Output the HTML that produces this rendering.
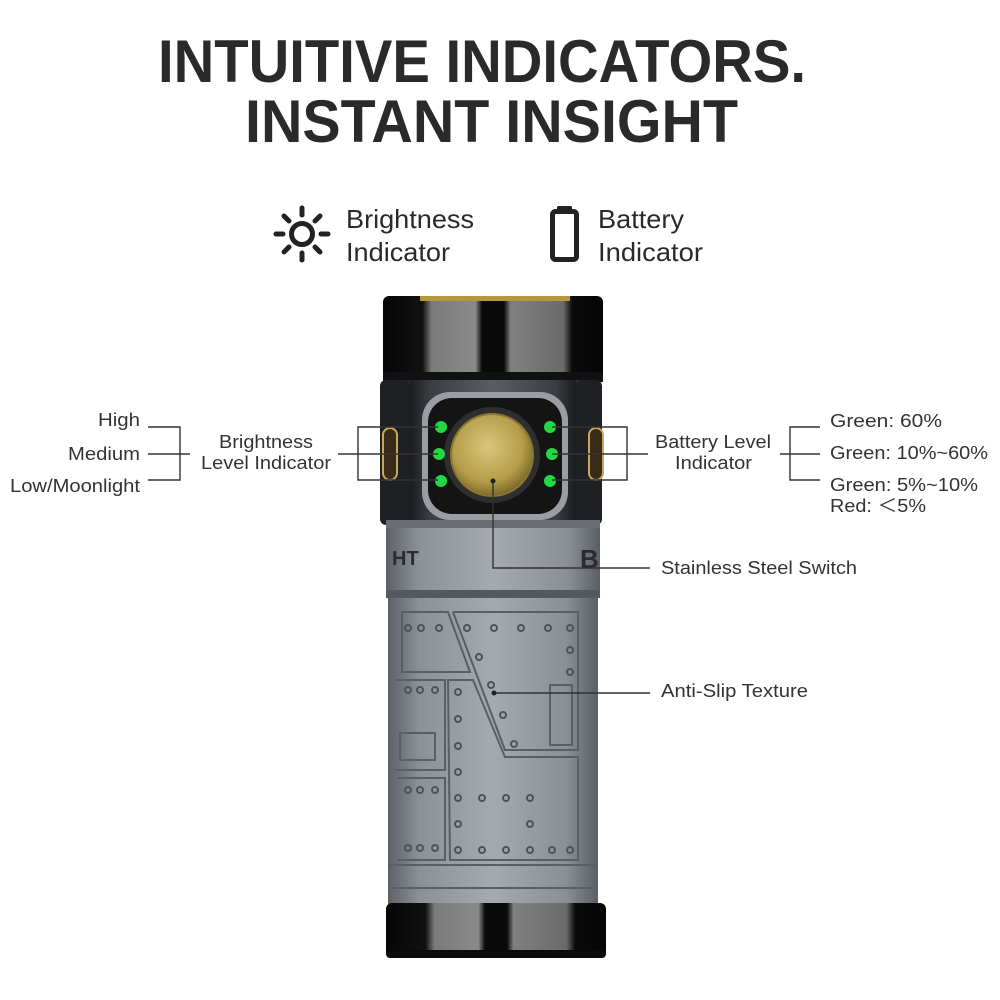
<!DOCTYPE html>
<html><head><meta charset="utf-8"><style>html,body{margin:0;padding:0;background:#fff}svg{display:block}</style></head>
<body>
<svg width="1000" height="1000" viewBox="0 0 1000 1000" xmlns="http://www.w3.org/2000/svg" font-family="Liberation Sans, sans-serif">
<defs>
<linearGradient id="blk" x1="0" x2="1" y1="0" y2="0">
<stop offset="0" stop-color="#050505"/><stop offset="0.18" stop-color="#111"/><stop offset="0.22" stop-color="#7a7a7a"/><stop offset="0.42" stop-color="#8a8a8a"/><stop offset="0.45" stop-color="#0a0a0a"/><stop offset="0.55" stop-color="#0a0a0a"/><stop offset="0.58" stop-color="#808080"/><stop offset="0.82" stop-color="#6a6a6a"/><stop offset="0.86" stop-color="#0a0a0a"/><stop offset="1" stop-color="#050505"/>
</linearGradient>
<linearGradient id="gray" x1="0" x2="1" y1="0" y2="0">
<stop offset="0" stop-color="#5c6168"/><stop offset="0.15" stop-color="#8c9198"/><stop offset="0.5" stop-color="#a5aab0"/><stop offset="0.85" stop-color="#8a8f96"/><stop offset="1" stop-color="#5a5f66"/>
</linearGradient>
<linearGradient id="dk" x1="0" x2="1" y1="0" y2="0">
<stop offset="0" stop-color="#1a1c1f"/><stop offset="0.12" stop-color="#3a3d42"/><stop offset="0.5" stop-color="#5a5e64"/><stop offset="0.88" stop-color="#3a3d42"/><stop offset="1" stop-color="#1a1c1f"/>
</linearGradient>
<radialGradient id="gold" cx="0.45" cy="0.4" r="0.6">
<stop offset="0" stop-color="#d8c67a"/><stop offset="0.7" stop-color="#b59e4a"/><stop offset="1" stop-color="#7d6a2a"/>
</radialGradient>
</defs>

<g fill="#2a2a2a" font-weight="bold">
<text x="158" y="82" font-size="60" textLength="648" lengthAdjust="spacingAndGlyphs">INTUITIVE INDICATORS.</text>
<text x="245" y="142" font-size="60" textLength="493" lengthAdjust="spacingAndGlyphs">INSTANT INSIGHT</text>
</g>

<g stroke="#222" stroke-width="5" stroke-linecap="round" fill="none">
<circle cx="302" cy="234" r="10.5"/>
<line x1="302" y1="208" x2="302" y2="215"/><line x1="302" y1="253" x2="302" y2="260"/>
<line x1="276" y1="234" x2="283" y2="234"/><line x1="321" y1="234" x2="328" y2="234"/>
<line x1="284" y1="216" x2="289" y2="221"/><line x1="315" y1="247" x2="320" y2="252"/>
<line x1="284" y1="252" x2="289" y2="247"/><line x1="315" y1="221" x2="320" y2="216"/>
</g>
<g fill="#2a2a2a" font-size="26">
<text x="346" y="228" textLength="128" lengthAdjust="spacingAndGlyphs">Brightness</text><text x="346" y="261" textLength="104" lengthAdjust="spacingAndGlyphs">Indicator</text>
<text x="598" y="228" textLength="86" lengthAdjust="spacingAndGlyphs">Battery</text><text x="598" y="261" textLength="105" lengthAdjust="spacingAndGlyphs">Indicator</text>
</g>
<rect x="557" y="206" width="15" height="8" rx="1.5" fill="#222"/>
<rect x="552.5" y="211.5" width="24" height="48" rx="3" fill="none" stroke="#222" stroke-width="5"/>

<rect x="383" y="296" width="220" height="84" rx="6" fill="url(#blk)"/>
<rect x="420" y="296" width="150" height="5" fill="#b8963a"/>
<rect x="383" y="372" width="220" height="10" fill="#111"/>
<rect x="380" y="380" width="222" height="145" rx="8" fill="#2a2c2f"/>
<rect x="410" y="380" width="166" height="145" fill="url(#dk)"/>
<rect x="380" y="380" width="30" height="145" rx="6" fill="#1e2023"/>
<rect x="576" y="380" width="26" height="145" rx="6" fill="#1e2023"/>
<rect x="383" y="428" width="14" height="52" rx="7" fill="#3a2a18" stroke="#c8a860" stroke-width="2"/>
<rect x="589" y="428" width="14" height="52" rx="7" fill="#3a2a18" stroke="#c8a860" stroke-width="2"/>
<rect x="422" y="392" width="146" height="128" rx="28" fill="#9a9ea4"/>
<rect x="428" y="398" width="134" height="116" rx="24" fill="#141414"/>
<circle cx="492" cy="455" r="48" fill="#2e2e2e"/>
<circle cx="492" cy="455" r="41" fill="url(#gold)" stroke="#8a7632" stroke-width="2"/>
<g fill="#22d844">
<circle cx="441" cy="427" r="6"/><circle cx="439" cy="454" r="6"/><circle cx="441" cy="481" r="6"/>
<circle cx="550" cy="427" r="6"/><circle cx="552" cy="454" r="6"/><circle cx="550" cy="481" r="6"/>
</g>
<rect x="386" y="522" width="214" height="74" rx="4" fill="url(#gray)"/>
<rect x="386" y="520" width="214" height="8" fill="#6a6e74"/>
<rect x="386" y="590" width="214" height="8" fill="#55595f"/>
<text x="392" y="565" font-size="20" font-weight="bold" fill="#2a2c30">HT</text>
<text x="580" y="568" font-size="26" font-weight="bold" fill="#2a2c30">B</text>
<rect x="388" y="598" width="210" height="312" fill="url(#gray)"/>
<g fill="none" stroke="#5a5f66" stroke-width="2">
<path d="M402 612 H448 L470 672 H402 Z"/>
<path d="M453 612 H578 V750 H505 L453 612"/>
<path d="M448 680 H473 L505 757 H578 V860 H450 Z"/>
<path d="M395 680 H445 V770 H395"/>
<path d="M397 778 H445 V860 H397"/>
<rect x="400" y="733" width="35" height="27"/>
<rect x="550" y="685" width="22" height="60"/>
<line x1="388" y1="865" x2="598" y2="865"/>
<line x1="388" y1="888" x2="598" y2="888"/>
</g>
<g fill="none" stroke="#4e535a" stroke-width="2">
<circle cx="408" cy="628" r="3"/><circle cx="421" cy="628" r="3"/><circle cx="439" cy="628" r="3"/>
<circle cx="467" cy="628" r="3"/><circle cx="494" cy="628" r="3"/><circle cx="521" cy="628" r="3"/><circle cx="548" cy="628" r="3"/><circle cx="570" cy="628" r="3"/>
<circle cx="479" cy="657" r="3"/><circle cx="491" cy="685" r="3"/><circle cx="503" cy="715" r="3"/><circle cx="514" cy="744" r="3"/>
<circle cx="458" cy="692" r="3"/><circle cx="458" cy="719" r="3"/><circle cx="458" cy="746" r="3"/><circle cx="458" cy="772" r="3"/><circle cx="458" cy="798" r="3"/><circle cx="458" cy="824" r="3"/><circle cx="458" cy="850" r="3"/>
<circle cx="482" cy="798" r="3"/><circle cx="506" cy="798" r="3"/><circle cx="530" cy="798" r="3"/><circle cx="530" cy="824" r="3"/>
<circle cx="482" cy="850" r="3"/><circle cx="506" cy="850" r="3"/><circle cx="530" cy="850" r="3"/><circle cx="552" cy="850" r="3"/><circle cx="570" cy="850" r="3"/>
<circle cx="408" cy="690" r="3"/><circle cx="420" cy="690" r="3"/><circle cx="435" cy="690" r="3"/>
<circle cx="408" cy="790" r="3"/><circle cx="420" cy="790" r="3"/><circle cx="435" cy="790" r="3"/>
<circle cx="408" cy="848" r="3"/><circle cx="420" cy="848" r="3"/><circle cx="435" cy="848" r="3"/>
<circle cx="570" cy="650" r="3"/><circle cx="570" cy="672" r="3"/>
</g>
<rect x="386" y="903" width="220" height="55" rx="6" fill="url(#blk)"/>
<rect x="386" y="950" width="220" height="8" rx="4" fill="#0a0a0a"/>

<g stroke="#333" stroke-width="1.4" fill="none">
<path d="M148 427 H180 V480 H148 M148 454 H190"/>
<path d="M338 454 H358 M438 427 H358 V480 H438 M358 454 H438"/>
<path d="M552 427 H627 V480 H552 M552 454 H648"/>
<path d="M780 454 H790 M820 427 H790 V480 H820 M790 454 H820"/>
<path d="M493 481 V568 H650"/>
<path d="M494 693 H650"/>
</g>
<circle cx="493" cy="481" r="2.5" fill="#222"/>
<circle cx="494" cy="693" r="2.5" fill="#222"/>

<g fill="#333" font-size="18" lengthAdjust="spacingAndGlyphs">
<text x="98" y="426" textLength="42" lengthAdjust="spacingAndGlyphs">High</text>
<text x="68" y="460" textLength="72" lengthAdjust="spacingAndGlyphs">Medium</text>
<text x="10" y="492" textLength="130" lengthAdjust="spacingAndGlyphs">Low/Moonlight</text>
<text x="219" y="448" textLength="94" lengthAdjust="spacingAndGlyphs">Brightness</text>
<text x="201" y="469" textLength="130" lengthAdjust="spacingAndGlyphs">Level Indicator</text>
<text x="655" y="448" textLength="116" lengthAdjust="spacingAndGlyphs">Battery Level</text>
<text x="675" y="469" textLength="77" lengthAdjust="spacingAndGlyphs">Indicator</text>
<text x="830" y="427" textLength="112" lengthAdjust="spacingAndGlyphs">Green:  60%</text>
<text x="830" y="459" textLength="158" lengthAdjust="spacingAndGlyphs">Green: 10%~60%</text>
<text x="830" y="491" textLength="148" lengthAdjust="spacingAndGlyphs">Green: 5%~10%</text>
<text x="830" y="512" textLength="96" lengthAdjust="spacingAndGlyphs">Red: ＜5%</text>
<text x="661" y="574" textLength="196" lengthAdjust="spacingAndGlyphs">Stainless Steel Switch</text>
<text x="661" y="697" textLength="147" lengthAdjust="spacingAndGlyphs">Anti-Slip Texture</text>
</g>
</svg>
</body></html>
